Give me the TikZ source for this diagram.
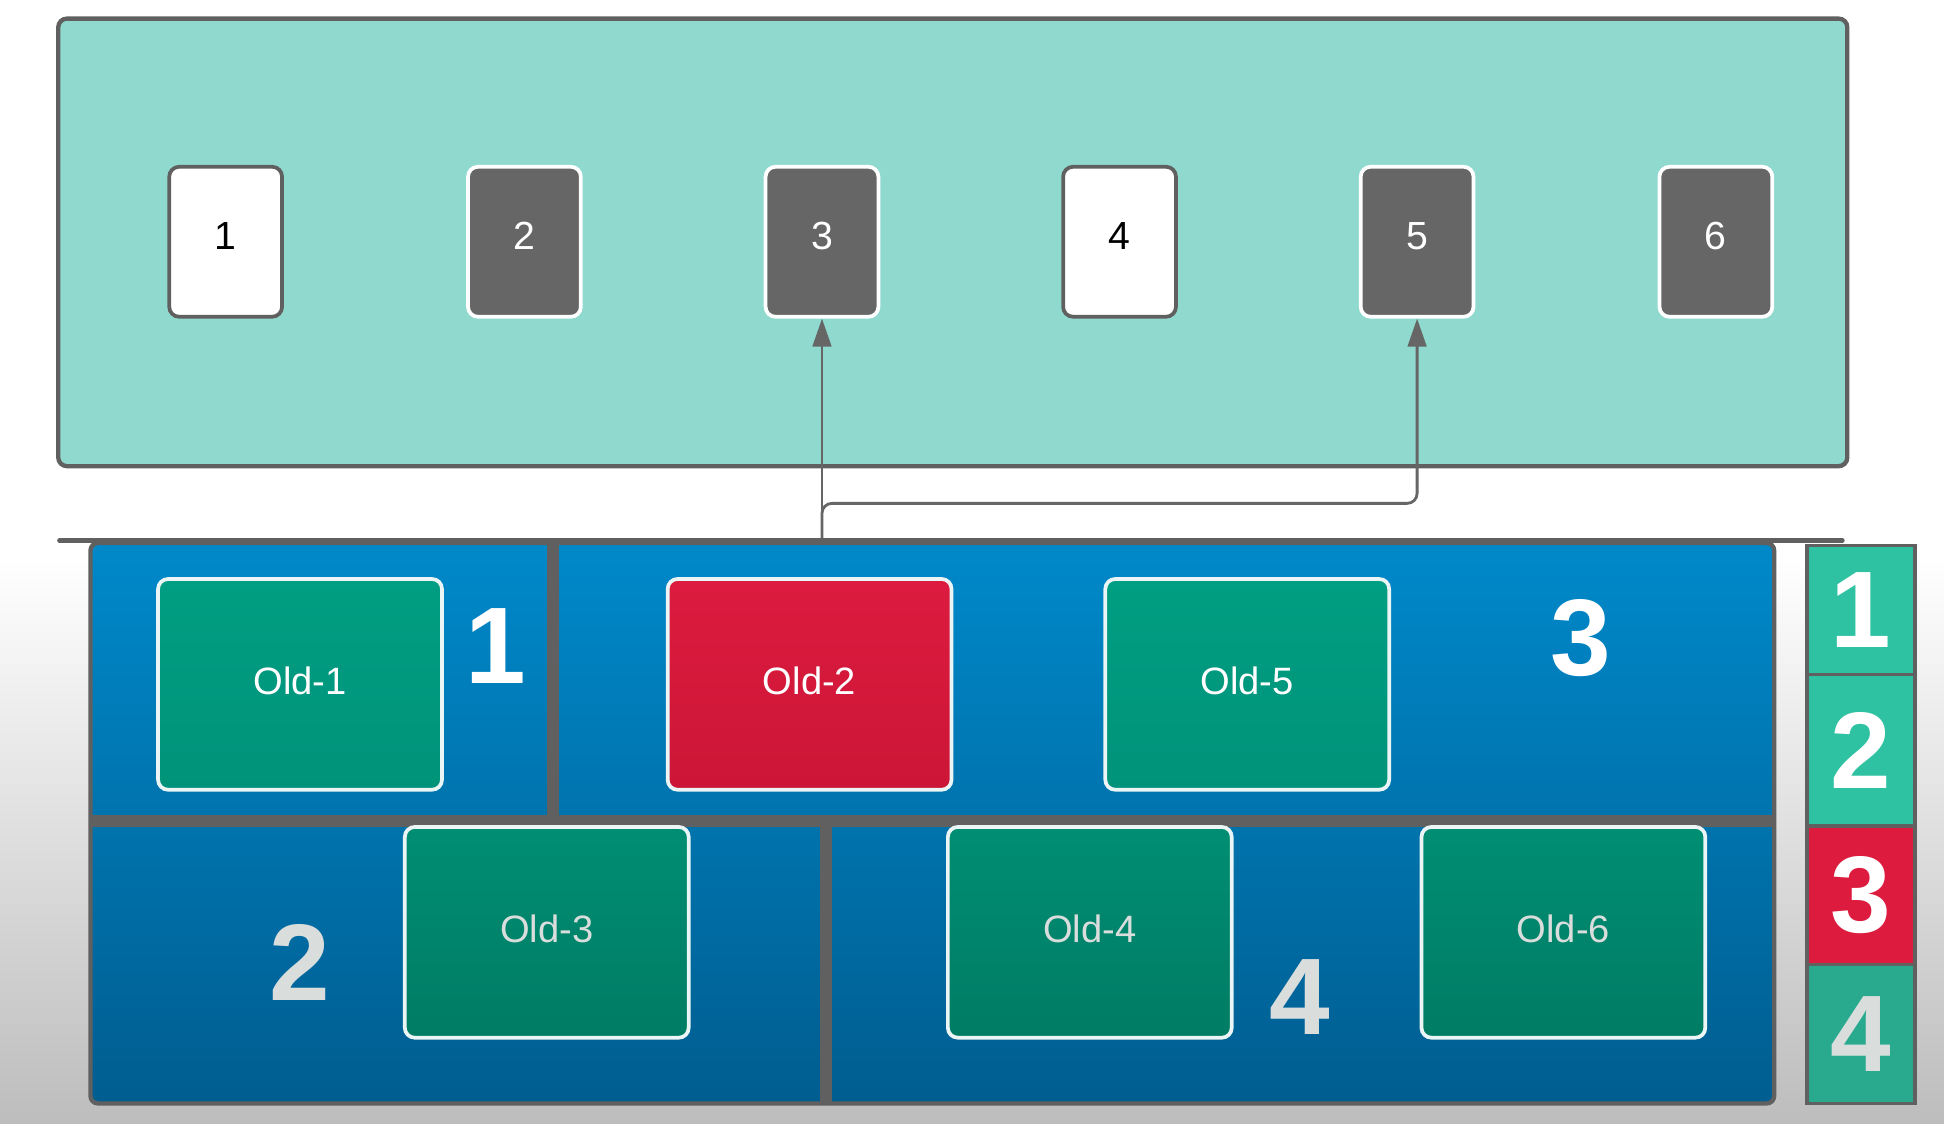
\documentclass[tikz,border=0pt]{standalone}
\usepackage{fontspec}
\setmainfont{Liberation Sans}
\usetikzlibrary{arrows.meta}

\definecolor{panelteal}{HTML}{8FD9CF}
\definecolor{edgegrey}{HTML}{606060}
\definecolor{cardgrey}{HTML}{666666}
\definecolor{bluetop}{HTML}{0089CA}
\definecolor{bluebot}{HTML}{005D90}
\definecolor{greenA}{HTML}{009E82}
\definecolor{greenB}{HTML}{00937A}
\definecolor{greenC}{HTML}{008E73}
\definecolor{greenD}{HTML}{007C64}
\definecolor{redtop}{HTML}{DC1B3F}
\definecolor{redbot}{HTML}{CC1637}
\definecolor{sideteal}{HTML}{2EC2A2}
\definecolor{sidetealdark}{HTML}{29AA8F}
\definecolor{paleg}{HTML}{D9DDDC}
\definecolor{bggrey}{HTML}{BDBDBD}

\tikzset{
  card/.style={rounded corners=0.16cm, line width=0.06cm, minimum width=1.82cm, minimum height=2.42cm, text depth=0.2cm, font=\fontsize{18}{20}\selectfont},
  lightcard/.style={card, draw=edgegrey, fill=white, text=black},
  darkcard/.style={card, draw=white, fill=cardgrey, text=white},
  oldbox/.style={rounded corners=0.16cm, line width=0.06cm, draw=white!92!teal, minimum width=4.58cm, minimum height=3.4cm, text depth=0.12cm, font=\fontsize{17.5}{20}\selectfont},
  oldtop/.style={oldbox, top color=greenA, bottom color=greenB, text=white},
  oldbottom/.style={oldbox, top color=greenC, bottom color=greenD, text=paleg},
  oldred/.style={oldbox, top color=redtop, bottom color=redbot, text=white},
  bignum/.style={font=\fontsize{50}{50}\selectfont\bfseries},
  sidecell/.style={draw=edgegrey, line width=0.06cm, minimum width=1.74cm, bignum, text=white},
  link/.style={draw=cardgrey, line width=0.045cm, -{Triangle[length=0.45cm, width=0.3cm]}}
}

\begin{document}
\begin{tikzpicture}[x=0.02cm, y=-0.02cm]
\def\cardy{195}
\def\oldya{552}
\def\oldyb{752}

\useasboundingbox (0,0) rectangle (1568,906);
\fill[white] (0,0) rectangle (1568,450);
\shade[top color=white, bottom color=bggrey] (0,450) rectangle (1568,906);

\draw[edgegrey, line width=0.07cm, fill=panelteal, rounded corners=0.14cm] (47,15) rectangle (1490,376);

\node[lightcard] (card1) at (182,\cardy) {1};
\node[darkcard] (card2) at (423,\cardy) {2};
\node[darkcard] (card3) at (663,\cardy) {3};
\node[lightcard] (card4) at (903,\cardy) {4};
\node[darkcard] (card5) at (1143,\cardy) {5};
\node[darkcard] (card6) at (1384,\cardy) {6};

\coordinate (fork) at (663,436);
\draw[link] (fork) -- (card3.south);
\draw[link, rounded corners=0.16cm] (fork) -- (663,406) -| (card5.south);

\draw[edgegrey, line width=0.075cm, line cap=round] (48,436) -- (1486,436);
\draw[edgegrey, line width=0.07cm, rounded corners=0.12cm, top color=bluetop, bottom color=bluebot] (73,438) rectangle (1431,890);
\draw[edgegrey, line width=0.2cm] (73,662) -- (1431,662);
\draw[edgegrey, line width=0.2cm] (446,438) -- (446,662);
\draw[edgegrey, line width=0.2cm] (666,662) -- (666,890);

\node[oldtop] (old1) at (242,\oldya) {Old-1};
\node[oldred] (old2) at (653,\oldya) {Old-2};
\node[oldtop] (old5) at (1006,\oldya) {Old-5};
\node[oldbottom] (old3) at (441,\oldyb) {Old-3};
\node[oldbottom] (old4) at (879,\oldyb) {Old-4};
\node[oldbottom] (old6) at (1261,\oldyb) {Old-6};

\node[bignum, text=white] (zone1) at (400,521) {1};
\node[bignum, text=white] (zone3) at (1275,515) {3};
\node[bignum, text=paleg] (zone2) at (242,776) {2};
\node[bignum, text=paleg] (zone4) at (1048,804) {4};

\node[sidecell, fill=sideteal, minimum height=2.08cm] (side1) at (1501,492) {1};
\node[sidecell, fill=sideteal, minimum height=2.44cm] (side2) at (1501,605) {2};
\node[sidecell, fill=redtop, minimum height=2.24cm] (side3) at (1501,722) {3};
\node[sidecell, fill=sidetealdark, minimum height=2.24cm, text=paleg] (side4) at (1501,834) {4};
\end{tikzpicture}
\end{document}
